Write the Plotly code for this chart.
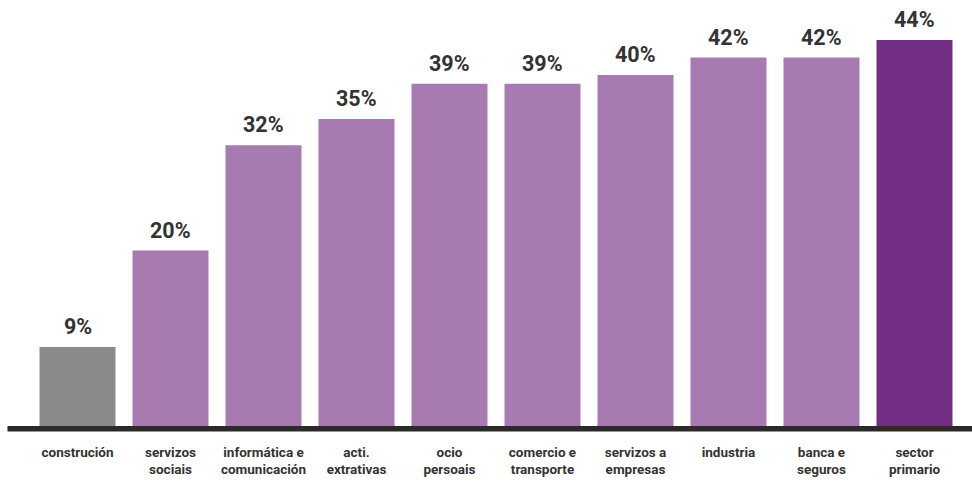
import plotly.graph_objects as go

# Share by sector (%)
categories = [
    "construción", "servizos<br>sociais", "informática e<br>comunicación",
    "acti.<br>extrativas", "ocio<br>persoais", "comercio e<br>transporte",
    "servizos a<br>empresas", "industria", "banca e<br>seguros", "sector<br>primario",
]
values = [9, 20, 32, 35, 39, 39, 40, 42, 42, 44]
value_labels = ["9%", "20%", "32%", "35%", "39%", "39%", "40%", "42%", "42%", "44%"]

GRAY = "#8a8a8a"
LIGHT = "#a87ab2"
DARK = "#722d84"
colors = [GRAY] + [LIGHT] * 8 + [DARK]

FONT = "Roboto, 'Open Sans', sans-serif"
TEXT = "#333333"

fig = go.Figure(
    go.Bar(
        x=categories,
        y=values,
        marker=dict(color=colors, line=dict(width=0)),
        hoverinfo="skip",
    )
)

for cat, val, lab in zip(categories, values, value_labels):
    fig.add_annotation(
        x=cat, y=val, text=f"<b>{lab}</b>", showarrow=False,
        yanchor="bottom", yshift=6,
        font=dict(family=FONT, size=21.5, color=TEXT),
    )

# Baseline rule running across the full width, just below the bars
fig.add_shape(
    type="rect", xref="paper", yref="paper",
    x0=-0.0253, x1=1.02,
    ysizemode="pixel", yanchor=0, y0=-5.5, y1=0,
    fillcolor="#2b2a28", line=dict(width=0),
)

fig.update_layout(
    width=972, height=491,
    margin=dict(l=31, r=11, t=10, b=65),
    paper_bgcolor="white", plot_bgcolor="white",
    bargap=0.183,
    showlegend=False,
    xaxis=dict(
        tickmode="array", tickvals=categories,
        ticktext=[f"<b>{c}</b>" for c in categories],
        tickfont=dict(family=FONT, size=13.5, color=TEXT),
        showgrid=False, zeroline=False, showline=False,
        ticks="", ticklabelstandoff=16,
    ),
    yaxis=dict(range=[0, 47.42], visible=False, fixedrange=True),
)

fig.write_html("out.html")
